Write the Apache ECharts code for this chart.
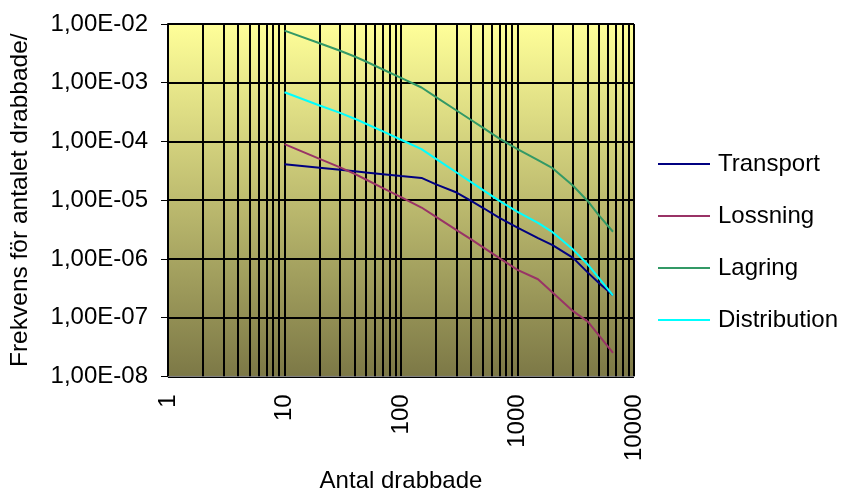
<!DOCTYPE html>
<html>
<head>
<meta charset="utf-8">
<script src="https://cdn.jsdelivr.net/npm/echarts@6/dist/echarts.min.js"></script>
<style>
html,body{margin:0;padding:0;background:#fff;}
#chart{width:844px;height:498px;}
</style>
</head>
<body>
<div id="chart"></div>
<script>
const seriesNames = ['Transport', 'Lossning', 'Lagring', 'Distribution'];
const xValues = [10, 20, 30, 40, 50, 70, 100, 150, 200, 300, 400, 500, 700, 1000, 1500, 2000, 3000, 4000, 5000, 6600];
const transport = [4.1e-5, 3.57e-5, 3.29e-5, 3.1e-5, 2.96e-5, 2.77e-5, 2.57e-5, 2.39e-5, 1.86e-5, 1.35e-5, 9.7e-6, 7.5e-6, 5.0e-6, 3.4e-6, 2.26e-6, 1.71e-6, 1.04e-6, 5.9e-7, 3.9e-7, 2.4e-7];
const lossning = [9.0e-5, 5.06e-5, 3.61e-5, 2.8e-5, 2.25e-5, 1.61e-5, 1.13e-5, 7.5e-6, 5.2e-6, 3.1e-6, 2.15e-6, 1.6e-6, 1.03e-6, 6.5e-7, 4.5e-7, 2.67e-7, 1.29e-7, 8.6e-8, 5.0e-8, 2.5e-8];
const lagring = [7.7e-3, 4.7e-3, 3.5e-3, 2.8e-3, 2.3e-3, 1.68e-3, 1.21e-3, 8.3e-4, 5.7e-4, 3.37e-4, 2.32e-4, 1.74e-4, 1.12e-4, 7.4e-5, 4.8e-5, 3.5e-5, 1.76e-5, 9.7e-6, 5.5e-6, 2.9e-6];
const distribution = [6.9e-4, 4.1e-4, 3.06e-4, 2.44e-4, 2.0e-4, 1.48e-4, 1.07e-4, 7.4e-5, 5.06e-5, 2.96e-5, 2.03e-5, 1.51e-5, 9.7e-6, 6.3e-6, 4.1e-6, 2.85e-6, 1.44e-6, 8.1e-7, 4.7e-7, 2.4e-7];
const xTickLabels = ['1', '10', '100', '1000', '10000'];
const yTickLabels = ['1,00E-08', '1,00E-07', '1,00E-06', '1,00E-05', '1,00E-04', '1,00E-03', '1,00E-02'];
const xAxisTitle = 'Antal drabbade';
const yAxisTitle = 'Frekvens för antalet drabbade/år';

const colors = ['#000080', '#993366', '#339966', '#00FFFF'];
const FONT = '"Liberation Sans", Arial, sans-serif';
const FS = 24;

function pairs(ys) { return xValues.map((x, i) => [x, ys[i]]); }

// minor vertical grid lines (log positions 2..9 of each decade)
const minorX = [];
for (let d = 1; d <= 1000; d *= 10) {
  for (let k = 2; k <= 9; k++) minorX.push({ xAxis: k * d });
}

const chart = echarts.init(document.getElementById('chart'), null, { renderer: 'canvas' });
const option = {
  animation: false,
  textStyle: { fontFamily: FONT },
  grid: {
    left: 168, top: 24, right: 210, bottom: 121,
    show: true,
    borderColor: '#808080', borderWidth: 1,
    backgroundColor: new echarts.graphic.LinearGradient(0, 0, 0, 1, [
      { offset: 0, color: '#FFFF99' },
      { offset: 1, color: '#7C7846' }
    ])
  },
  legend: {
    orient: 'vertical',
    left: 653, top: 147,
    itemWidth: 52, itemHeight: 20, itemGap: 28,
    data: seriesNames,
    textStyle: { fontFamily: FONT, fontSize: FS, color: '#000', padding: [0, 0, 0, 3] },
    icon: 'path://M0,9 L52,9 L52,11 L0,11 Z'
  },
  xAxis: {
    type: 'log', logBase: 10, min: 1, max: 10000,
    name: xAxisTitle, nameLocation: 'middle', nameGap: 86,
    nameTextStyle: { fontFamily: FONT, fontSize: FS, color: '#000' },
    axisLine: { show: true, lineStyle: { color: '#808080', width: 1 } },
    axisTick: { show: false },
    axisLabel: {
      rotate: 90, margin: 18, fontFamily: FONT, fontSize: FS, color: '#000',
      formatter: function (v) { return xTickLabels[Math.round(Math.log10(v))]; }
    },
    splitLine: { show: true, lineStyle: { color: '#000', width: 2 } }
  },
  yAxis: {
    type: 'log', logBase: 10, min: 1e-8, max: 1e-2,
    axisLine: { show: true, lineStyle: { color: '#000', width: 2 } },
    axisTick: { show: true, inside: false, length: 7, lineStyle: { color: '#000', width: 1 } },
    axisLabel: {
      margin: 20, fontFamily: FONT, fontSize: FS, color: '#000',
      formatter: function (v) { return yTickLabels[Math.round(Math.log10(v)) + 8]; }
    },
    splitLine: { show: true, lineStyle: { color: '#000', width: 2 } }
  },
  graphic: [{
    type: 'text',
    x: 20, y: 367,
    rotation: Math.PI / 2,
    style: {
      text: yAxisTitle, fontFamily: FONT, fontSize: 24.5, fill: '#000',
      textAlign: 'left', textVerticalAlign: 'middle',
      width: 346, overflow: 'truncate', ellipsis: ''
    }
  }],
  series: [
    {
      type: 'line', name: '__grid', data: [], silent: true, z: 1,
      markLine: {
        silent: true, symbol: ['none', 'none'], label: { show: false },
        lineStyle: { color: '#000', width: 2, type: 'solid' },
        emphasis: { disabled: true },
        data: minorX
      }
    },
    { type: 'line', name: seriesNames[0], data: pairs(transport), symbol: 'none', z: 5, lineStyle: { color: colors[0], width: 2 }, itemStyle: { color: colors[0] } },
    { type: 'line', name: seriesNames[1], data: pairs(lossning), symbol: 'none', z: 5, lineStyle: { color: colors[1], width: 2 }, itemStyle: { color: colors[1] } },
    { type: 'line', name: seriesNames[2], data: pairs(lagring), symbol: 'none', z: 5, lineStyle: { color: colors[2], width: 2 }, itemStyle: { color: colors[2] } },
    { type: 'line', name: seriesNames[3], data: pairs(distribution), symbol: 'none', z: 5, lineStyle: { color: colors[3], width: 2 }, itemStyle: { color: colors[3] } }
  ]
};
chart.setOption(option);
</script>
</body>
</html>
